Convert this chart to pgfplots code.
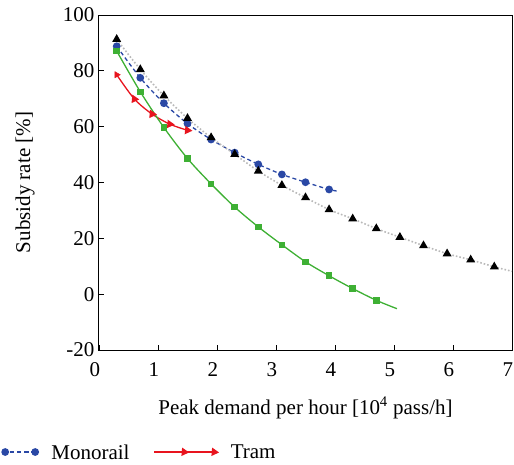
\documentclass[border=0pt]{standalone}
\usepackage{fontspec}
\setmainfont{Liberation Serif}
\usepackage{pgfplots}
\pgfplotsset{compat=1.18}
\definecolor{cblue}{RGB}{42,72,165}
\definecolor{cgreen}{RGB}{62,176,52}
\definecolor{cred}{RGB}{232,20,30}
\definecolor{cgray}{RGB}{185,185,185}
\begin{document}
\begin{tikzpicture}[x=1pt,y=1pt]
\begin{axis}[
  at={(0,0)}, anchor=south west,
  scale only axis, width=413pt, height=335pt,
  xmin=0, xmax=7, ymin=-20, ymax=100,
  xtick={0,1,...,7}, ytick={-20,0,20,...,100},
  tick align=inside, xtick pos=bottom, ytick pos=left,
  major tick length=5pt,
  axis line style={line width=1pt},
  every tick/.style={black, line width=0.8pt},
  font=\fontsize{21}{25}\selectfont,
  /pgf/number format/assume math mode=true,
  xlabel={Peak demand per hour [10\textsuperscript{4} pass/h]},
  ylabel={Subsidy rate [\%]},
  every axis x label/.style={at={(axis description cs:0.5,0)}, anchor=center, yshift=-58pt},
  every axis y label/.style={at={(axis description cs:-0.179,0.5)}, rotate=90, anchor=center},
  xticklabel style={yshift=-9pt, xshift=-4pt},
  yticklabel style={xshift=-1pt},
  legend columns=2,
  legend style={draw=none, fill=none, inner sep=0pt, outer sep=0pt,
    font=\fontsize{21}{25}\selectfont,
    at={(axis description cs:-0.3075,-0.3045)}, anchor=west,
    nodes={inner sep=0pt, text depth=0pt},
    column sep=13pt,
    /tikz/every even column/.append style={column sep=24pt}},
  legend image code/.code={\draw[mark repeat=2,mark phase=2,#1] plot coordinates {(0pt,0pt) (30pt,0pt) (60pt,0pt)};},
]
% Monorail (blue)
\addplot[cblue, line width=1.3pt, dash pattern=on 4pt off 3pt, smooth, mark=*, mark indices={1,...,10},
  mark options={solid, fill=cblue, draw=cblue, scale=1.6}] coordinates {
  (0.3,88.8)(0.7,77.5)(1.1,68.4)(1.5,61.1)(1.9,55.4)(2.3,50.7)(2.7,46.5)(3.1,42.9)(3.5,40.1)(3.9,37.5)(4.05,36.9)};
\addlegendentry{Monorail}
% Tram (red)
\addplot[cred, line width=1.3pt, smooth, mark=triangle*, mark indices={2,...,5},
  mark options={solid, fill=cred, draw=cred, scale=1.8, rotate=-95}] coordinates {
  (0.3,78.6)(0.6,69.9)(0.9,64.5)(1.2,60.9)(1.5,58.7)};
\addlegendentry{Tram}
\addplot[forget plot, only marks, cred, mark=triangle*, mark options={fill=cred, draw=cred, scale=1.8, rotate=30}] coordinates {(0.3,78.6)};
% black triangles, gray dotted
\addplot[forget plot, cgray, line width=1.6pt, dotted, smooth, mark=triangle*, mark indices={1,...,17},
  mark options={solid, fill=black, draw=black, scale=1.8}] coordinates {
  (0.3,91.3)(0.7,80.5)(1.1,71.1)(1.5,63)(1.9,56.1)(2.3,50.1)(2.7,44.1)(3.1,39)(3.5,34.6)(3.9,30.3)(4.3,27)(4.7,23.5)(5.1,20.4)(5.5,17.4)(5.9,14.5)(6.3,12.3)(6.7,9.8)(7.0,8.2)};
% green squares
\addplot[forget plot, cgreen, line width=1.3pt, smooth, mark=square*, mark indices={1,...,12},
  mark options={solid, fill=cgreen, draw=cgreen, scale=1.3}] coordinates {
  (0.3,87.1)(0.7,72.5)(1.1,59.7)(1.5,48.6)(1.9,39.5)(2.3,31.2)(2.7,24.1)(3.1,17.7)(3.5,11.6)(3.9,6.6)(4.3,2.0)(4.7,-2.2)(5.05,-5.2)};
\end{axis}
\pgfresetboundingbox
\path (-99pt,-114pt) rectangle (415pt,350pt);
\end{tikzpicture}
\end{document}
